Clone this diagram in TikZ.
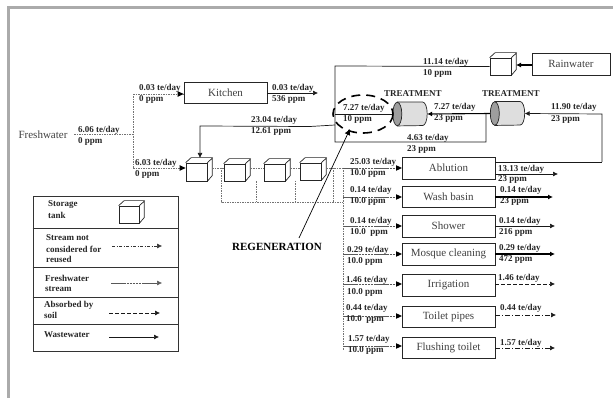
\documentclass[tikz,border=0pt]{standalone}
\usepackage{fontspec}
\setmainfont{Liberation Serif}
\usetikzlibrary{arrows.meta,shapes.geometric}
\tikzset{
  x=1pt,y=-1pt,
  proc/.style={draw=black!85,line width=0.7pt,inner sep=0pt,font=\fontsize{11}{12}\selectfont,text=black!75},
  lab/.style={anchor=west,inner sep=0pt,font=\bfseries\fontsize{9}{10}\selectfont,text=black!85},
  tankbox/.style={draw=black!85,line width=0.7pt,inner sep=0pt,fill=white},
  cylbox/.style={inner sep=0pt,minimum width=34pt,minimum height=23.5pt},
  tipped/.style={-{Latex[length=5pt,width=5pt]}},
  waste/.style={draw=black!90,line width=0.7pt},
  wastethick/.style={draw=black,line width=1.1pt},
  fresh/.style={draw=black!55,line width=0.5pt,dash pattern=on 1.5pt off 1pt},
  feed/.style={draw=black!65,line width=0.5pt,dash pattern=on 2.5pt off 0.6pt},
  soil/.style={draw=black!90,line width=0.6pt,dash pattern=on 3.5pt off 2.5pt},
  notused/.style={draw=black!90,line width=0.6pt,dash pattern=on 5pt off 2pt on 1pt off 2pt},
}
\newcommand{\tankat}[5]{%
  \node[tankbox,minimum width=#4pt,minimum height=#5pt] (#1) at (#2,#3) {};
  \draw[draw=black!85,line width=0.7pt] (#1.north west) -- ++(5.5,-5) -- ++(#4,0) -- ++(0,#5) -- (#1.south east)
    (#1.north east) -- ++(5.5,-5);
}
\newcommand{\cylat}[3]{%
  \node[cylbox] (#1) at (#2,#3) {};
  \path[draw=black!85,line width=0.7pt,fill=black!13]
    ([xshift=4.5pt]#1.north west) -- ([xshift=-4.5pt]#1.north east)
    arc [start angle=-90,end angle=90,x radius=4.5,y radius=11.75]
    -- ([xshift=4.5pt]#1.south west) -- cycle;
  \path[draw=black!85,line width=0.7pt,fill=black!38]
    ([xshift=4.5pt]#1.west) ellipse [x radius=4.5,y radius=11.75];
}
\begin{document}
\begin{tikzpicture}
\useasboundingbox (0,0) rectangle (613,398);
\fill[black!33] (7,6) rectangle (613,9);
\fill[black!33] (7,6) rectangle (10,398);

% process boxes
\node[proc,minimum width=83pt,minimum height=21pt] (kitchen) at (225.5,92.5) {Kitchen};
\node[proc,minimum width=78pt,minimum height=22pt] (rain) at (571,64) {Rainwater};
\node[proc,minimum width=93pt,minimum height=22pt] (abl) at (448.5,168) {Ablution};
\node[proc,minimum width=93pt,minimum height=21pt] (wash) at (448.5,196.5) {Wash basin};
\node[proc,minimum width=93pt,minimum height=22pt] (shower) at (448.5,226) {Shower};
\node[proc,minimum width=93pt,minimum height=22pt] (mosque) at (448.5,254) {Mosque cleaning};
\node[proc,minimum width=93pt,minimum height=22pt] (irrig) at (448.5,285) {Irrigation};
\node[proc,minimum width=93pt,minimum height=21pt] (toilet) at (448.5,316.5) {Toilet pipes};
\node[proc,minimum width=93pt,minimum height=21pt] (flush) at (448.5,347.5) {Flushing toilet};

% freshwater
\node[inner sep=0pt,font=\fontsize{11}{12}\selectfont,text=black!75] (fw) at (43,134.5) {Freshwater};
\coordinate (fws) at (74,134);
\coordinate (fwj) at (133,134);
\coordinate (fwt) at (133,94);
\coordinate (fwb) at (133,168);
\draw[fresh] (fws) -- (fwj);
\draw[fresh] (fwt) -- (fwb);
\draw[fresh] (fwt) -- (kitchen.west |- fwt);
\draw[fresh] (fwb) -- (180,168);

% tanks
\tankat{t1}{196.5}{172}{21}{18}
\tankat{t2}{234.5}{172.5}{21}{17}
\tankat{t3}{274.5}{172.5}{21}{17}
\tankat{t4}{310.5}{171.5}{21}{17}
\tankat{trw}{500.5}{66.5}{21}{17}

% manifold
\coordinate (m1) at (221,168);
\coordinate (m2) at (221,202);
\coordinate (m3) at (343,202);
\coordinate (mt) at (343,168);
\coordinate (mb) at (343,350);
\draw[fresh] (212,168) -- (t2.west |- m1);
\draw[fresh] (250.5,168) -- (t3.west |- m1);
\draw[fresh] (290.5,168) -- (t4.west |- m1);
\draw[fresh] (326.5,168) -- (mt);
\draw[fresh] (m1) -- (m2) -- (m3);
\draw[fresh] (t2.south east) ++(11,0) -- ++(0,21);
\draw[fresh] (295,181) -- (295,202);
\draw[fresh] (333,168) -- (333,202);
\draw[fresh] (mt) -- (mb);

% inputs to processes
\foreach \n/\y in {abl/168,wash/197,shower/226,mosque/254,irrig/284,toilet/316,flush/346}{
  \draw[feed] (343,\y) -- (397,\y);
  \draw[draw=none,fill=black] (402,\y) -- (396,\y-2.8) -- (396,\y+2.8) -- cycle;
}
% arrow heads of the freshwater branches
\draw[draw=none,fill=black] (kitchen.west |- fwt) -- ++(-6,-2.8) -- ++(0,5.6) -- cycle;
\draw[draw=none,fill=black] (t1.west |- fwb) -- ++(-6,-2.8) -- ++(0,5.6) -- cycle;

% treatment units
\cylat{cl}{410}{114}
\cylat{cr}{507.5}{113.5}

% waste and reuse
\draw[waste,tipped] (kitchen.east |- 0,93) -- (318,93);
\draw[wastethick,tipped] (rain.west |- 0,65) -- (516,65);
\draw[waste] (trw.west) -- (335,66) -- (335,142) -- (486,142) -- (486,114);
\draw[wastethick,tipped] (cr.west) -- (cl.east);
\draw[waste] (cl.west) -- (335,114);
\draw[waste,tipped] (335,125) -- (310,126.5) -- (200,126) -- (200,158);
\coordinate (abr) at (602,162);
\draw[waste] (abl.east |- abr) -- (abr);
\draw[waste,tipped] (abr) -- (602,114) -- (cr.east);

% process outlets
\draw[waste,tipped] (abl.east |- 0,174) -- (558,174);
\draw[wastethick,tipped] (wash.east |- 0,197) -- (553,197);
\draw[waste,tipped] (shower.east |- 0,226) -- (555,226);
\draw[wastethick,tipped] (mosque.east |- 0,254) -- (555,254);
\draw[soil,tipped] (irrig.east |- 0,284) -- (555,284);
\draw[notused,tipped] (toilet.east |- 0,315) -- (556,315);
\draw[notused,tipped] (flush.east |- 0,348) -- (555,348);

% regeneration
\draw[black,line width=1.6pt,dash pattern=on 9pt off 6pt] (363,114) ellipse [x radius=30,y radius=19];
\node[anchor=center,inner sep=0pt,font=\bfseries\fontsize{11}{12}\selectfont] (rl) at (277,247) {REGENERATION};
\coordinate (rs) at (299,238);
\coordinate (re) at (350,129);
\draw[black,line width=0.7pt,-{Latex[length=6pt,width=6pt]}] (rs) -- (re);

% labels
\node[lab] (a1) at (139,88) {0.03 te/day};
\node[lab] (a2) at (139,99) {0 ppm};
\node[lab] (a3) at (272,88) {0.03 te/day};
\node[lab] (a4) at (272,99) {536 ppm};
\node[lab] (a5) at (78,130) {6.06 te/day};
\node[lab] (a6) at (78,141) {0 ppm};
\node[lab] (a7) at (135,163) {6.03 te/day};
\node[lab] (a8) at (135,174) {0 ppm};
\node[lab] (a9) at (251,120) {23.04 te/day};
\node[lab] (a10) at (251,131) {12.61 ppm};
\node[lab] (b1) at (423,62) {11.14 te/day};
\node[lab] (b2) at (423,73) {10 ppm};
\node[lab] (b3) at (343,108) {7.27 te/day};
\node[lab] (b4) at (343,119) {10 ppm};
\node[lab] (b5) at (434,107) {7.27 te/day};
\node[lab] (b6) at (434,118) {23 ppm};
\node[lab] (b7) at (551,107) {11.90 te/day};
\node[lab] (b8) at (551,119) {23 ppm};
\node[lab] (b9) at (407,138) {4.63 te/day};
\node[lab] (b10) at (407,149) {23 ppm};
\node[lab] (tr1) at (384,94) {TREATMENT};
\node[lab] (tr2) at (482,94) {TREATMENT};
\node[lab] (c1) at (350,162) {25.03 te/day};
\node[lab] (c2) at (350,173) {10.0 ppm};
\node[lab] (c3) at (350,190) {0.14 te/day};
\node[lab] (c4) at (350,201) {10.0 ppm};
\node[lab] (c5) at (350,221) {0.14 te/day};
\node[lab] (c6) at (350,232) {10.0\ \ ppm};
\node[lab] (c7) at (347,250) {0.29 te/day};
\node[lab] (c8) at (347,261) {10.0 ppm};
\node[lab] (c9) at (346,280) {1.46 te/day};
\node[lab] (c10) at (347,292) {10.0 ppm};
\node[lab] (c11) at (346,308) {0.44 te/day};
\node[lab] (c12) at (346,319) {10.0\ \ ppm};
\node[lab] (c13) at (348,339) {1.57 te/day};
\node[lab] (c14) at (348,350) {10.0 ppm};
\node[lab] (d1) at (498,169) {13.13 te/day};
\node[lab] (d2) at (498,179) {23 ppm};
\node[lab] (d3) at (500,190) {0.14 te/day};
\node[lab] (d4) at (500,201) {23 ppm};
\node[lab] (d5) at (499,221) {0.14 te/day};
\node[lab] (d6) at (499,232) {216 ppm};
\node[lab] (d7) at (499,248) {0.29 te/day};
\node[lab] (d8) at (499,259) {472 ppm};
\node[lab] (d9) at (498,278) {1.46 te/day};
\node[lab] (d10) at (500,308) {0.44 te/day};
\node[lab] (d11) at (500,343) {1.57 te/day};

% legend
\node[draw=black!80,line width=0.7pt,minimum width=145pt,minimum height=155pt,inner sep=0pt] (leg) at (105.5,273.5) {};
\draw[black!80,line width=0.7pt] (leg.west |- 0,228) -- (leg.east |- 0,228);
\draw[black!80,line width=0.7pt] (leg.west |- 0,267) -- (leg.east |- 0,267);
\draw[black!80,line width=0.7pt] (leg.west |- 0,297) -- (leg.east |- 0,297);
\draw[black!80,line width=0.7pt] (leg.west |- 0,324) -- (leg.east |- 0,324);
\tankat{tl}{129}{214.5}{20}{17}
\node[lab] (e1) at (48,205) {Storage};
\node[lab] (e2) at (48,215) {tank};
\node[lab] (e3) at (46,238) {Stream not};
\node[lab] (e4) at (46,249) {considered for};
\node[lab] (e5) at (46,259.5) {reused};
\node[lab] (e6) at (45,278) {Freshwater};
\node[lab] (e7) at (45,289) {stream};
\node[lab] (e8) at (44,305) {Absorbed by};
\node[lab] (e9) at (44,315) {soil};
\node[lab] (e10) at (44,335) {Wastewater};
\coordinate (f1) at (112,246); \coordinate (f2) at (162,246);
\coordinate (f3) at (111,283); \coordinate (f4) at (162,283);
\coordinate (f5) at (109,313); \coordinate (f6) at (160,313);
\coordinate (f7) at (109,337); \coordinate (f8) at (159,337);
\draw[draw=black!80,line width=0.5pt,dash pattern=on 3pt off 1.5pt on 1pt off 1.5pt,tipped] (f1) -- (f2);
\draw[feed,tipped] (f3) -- (f4);
\draw[soil,tipped] (f5) -- (f6);
\draw[waste,tipped] (f7) -- (f8);
\end{tikzpicture}
\end{document}
